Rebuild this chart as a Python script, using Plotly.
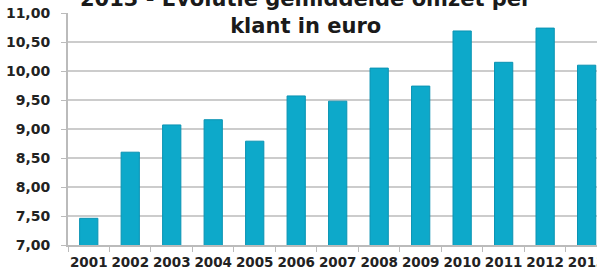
import plotly.graph_objects as go

years = ["2001", "2002", "2003", "2004", "2005", "2006", "2007",
         "2008", "2009", "2010", "2011", "2012", "2013"]
values = [7.46, 8.60, 9.07, 9.16, 8.79, 9.57, 9.48,
          10.05, 9.74, 10.69, 10.15, 10.74, 10.10]
y_ticks = [7.0, 7.5, 8.0, 8.5, 9.0, 9.5, 10.0, 10.5, 11.0]
y_tick_labels = ["7,00", "7,50", "8,00", "8,50", "9,00", "9,50", "10,00", "10,50", "11,00"]
title_text = "2013 - Evolutie gemiddelde omzet per<br>klant in euro"

font_family = "DejaVu Sans"

fig = go.Figure(go.Bar(
    x=years, y=values,
    marker=dict(color="#0DA9CA", line=dict(color="#0A93B3", width=1)),
    width=0.44,
))

fig.update_layout(
    width=597, height=273,
    margin=dict(l=68, r=0, t=13, b=28, autoexpand=False),
    paper_bgcolor="white", plot_bgcolor="white",
    showlegend=False,
    font=dict(family=font_family, color="#222222"),
    annotations=[dict(
        text="<b>" + title_text + "</b>",
        xref="paper", yref="paper", x=0.45, y=0.885,
        xanchor="center", yanchor="bottom", showarrow=False,
        font=dict(family=font_family, size=21, color="#1a1a1a"),
    )],
)

fig.update_xaxes(
    type="category", range=[-0.5, 12.25], automargin=False,
    showline=True, linecolor="#BBBBBB", linewidth=2,
    ticks="outside", tickson="boundaries", ticklen=5, tickcolor="#BBBBBB",
    ticklabelstandoff=4,
    tickfont=dict(family=font_family, size=13.5, color="#222222"),
    tickangle=0,
    tickprefix="<b>", ticksuffix="</b>",
    showgrid=False,
)
fig.update_yaxes(
    range=[7, 11], tickvals=y_ticks, ticktext=["<b>" + t + "</b>" for t in y_tick_labels],
    automargin=False,
    showline=True, linecolor="#BBBBBB", linewidth=2,
    ticks="outside", ticklen=5, tickcolor="#BBBBBB",
    ticklabelstandoff=8,
    tickfont=dict(family=font_family, size=14, color="#222222"),
    showgrid=True, gridcolor="#CCCCCC", gridwidth=2,
    zeroline=False,
)

fig.write_html("out.html", config={"displayModeBar": False},
               post_script="document.body.style.margin='0';")
